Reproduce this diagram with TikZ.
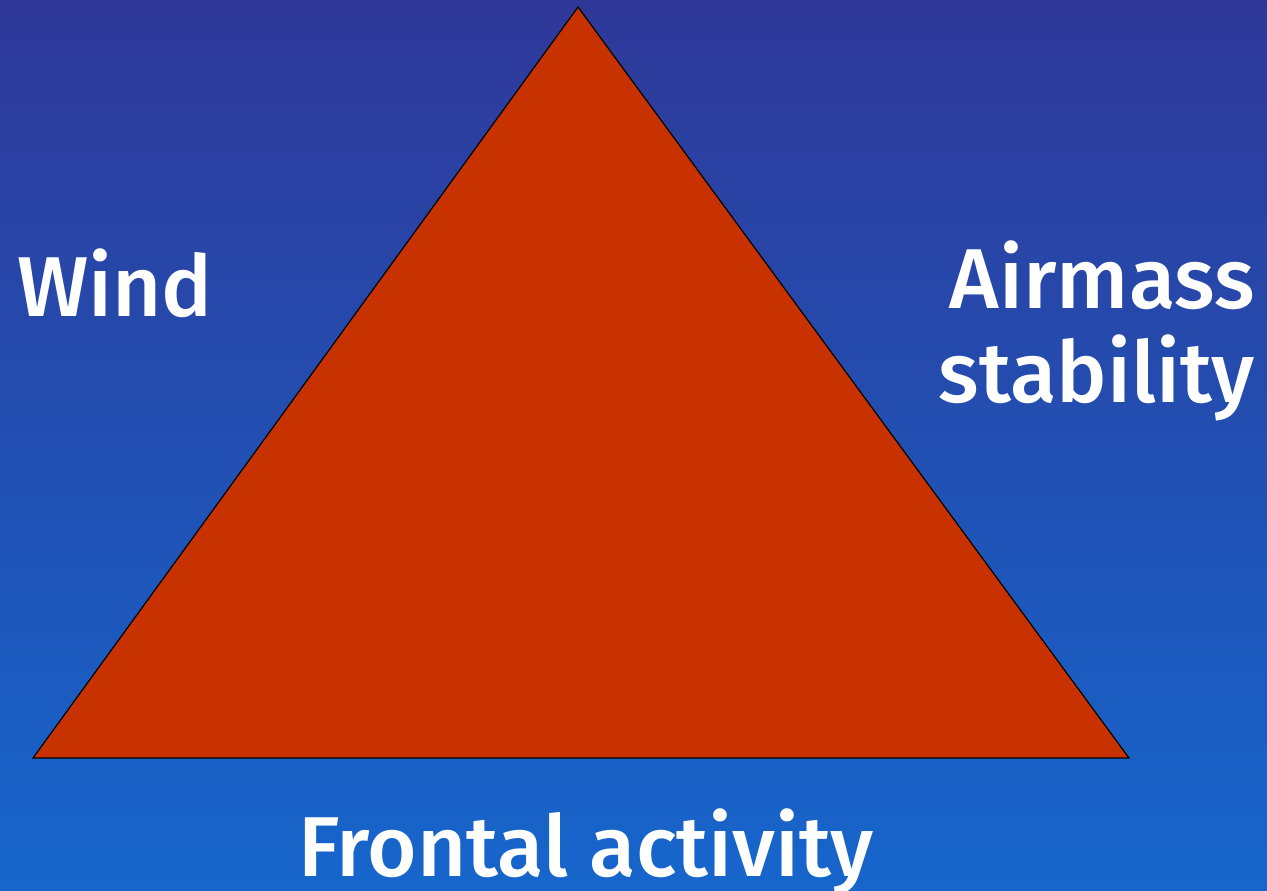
\documentclass[tikz,border=0pt]{standalone}
\usepackage{fontspec}
\setmainfont{Fira Sans}[UprightFont={* Medium}]
\definecolor{bgtop}{RGB}{47,56,153}
\definecolor{bgbot}{RGB}{22,102,204}
\definecolor{tri}{RGB}{200,50,0}
\tikzset{
  lbl/.style={text=white, inner sep=0pt, font=\fontsize{85}{94}\selectfont},
  tribox/.style={fill=tri, draw=black, line width=1.2pt, line join=miter}
}
\begin{document}
\begin{tikzpicture}[x=1pt,y=-1pt]
\shade[top color=bgtop, bottom color=bgbot] (0,0) rectangle (1267,891);
\useasboundingbox (0,0) rectangle (1267,891);
\coordinate (apex) at (578,7);
\coordinate (bl) at (33,758);
\coordinate (br) at (1129,758);
\draw[tribox] (apex) -- (br) -- (bl) -- cycle;
\node[lbl, anchor=base west] (wind) at (17,316) {Wind};
\node[lbl, anchor=base east, align=right] (air) at (1255,402) {Airmass\\stability};
\node[lbl, anchor=base] (front) at (586,876) {Frontal activity};
\end{tikzpicture}
\end{document}
